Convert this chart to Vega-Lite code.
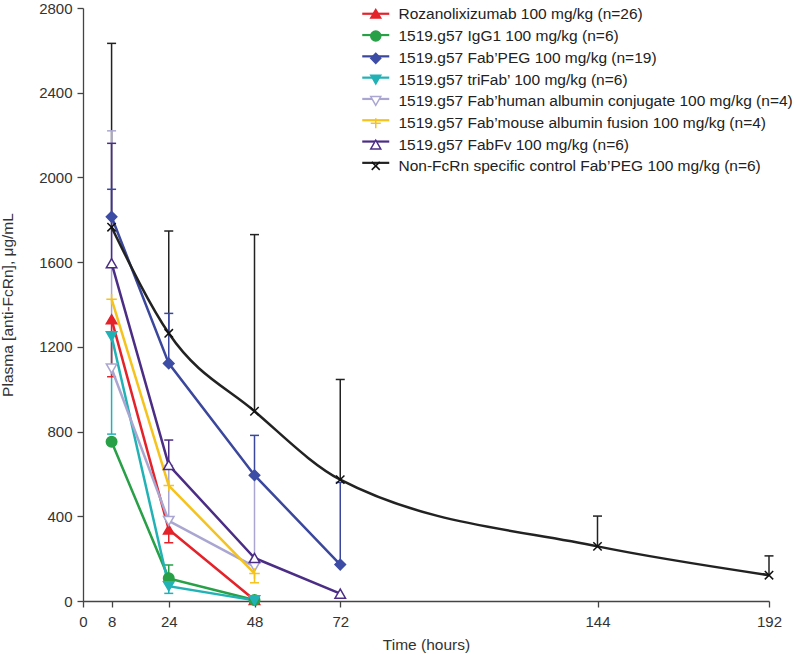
{
  "$schema": "https://vega.github.io/schema/vega-lite/v6.json",
  "width": 686,
  "height": 593,
  "autosize": {"type": "none"},
  "padding": {"left": 83, "top": 8, "right": 31, "bottom": 53},
  "background": "white",
  "config": {
    "view": {"stroke": null},
    "font": "Liberation Sans",
    "axis": {
      "grid": false,
      "domainColor": "#444444",
      "domainWidth": 1.3,
      "tickColor": "#444444",
      "tickWidth": 1.3,
      "tickSize": 6,
      "labelFont": "Liberation Sans",
      "labelFontSize": 15,
      "labelColor": "#333333",
      "titleFont": "Liberation Sans",
      "titleFontSize": 15.5,
      "titleFontWeight": "normal",
      "titleColor": "#333333",
      "labelFlush": false,
      "format": "d"
    }
  },
  "datasets": {
    "means": [
      {"series": "Rozanolixizumab 100 mg/kg (n=26)", "time": 8, "value": 1330},
      {"series": "Rozanolixizumab 100 mg/kg (n=26)", "time": 24, "value": 338},
      {"series": "Rozanolixizumab 100 mg/kg (n=26)", "time": 48, "value": 5},
      {"series": "1519.g57 IgG1 100 mg/kg (n=6)", "time": 8, "value": 752},
      {"series": "1519.g57 IgG1 100 mg/kg (n=6)", "time": 24, "value": 107},
      {"series": "1519.g57 IgG1 100 mg/kg (n=6)", "time": 48, "value": 5},
      {"series": "1519.g57 Fab’PEG 100 mg/kg (n=19)", "time": 8, "value": 1814},
      {"series": "1519.g57 Fab’PEG 100 mg/kg (n=19)", "time": 24, "value": 1122},
      {"series": "1519.g57 Fab’PEG 100 mg/kg (n=19)", "time": 48, "value": 594},
      {"series": "1519.g57 Fab’PEG 100 mg/kg (n=19)", "time": 72, "value": 172},
      {"series": "1519.g57 triFab’ 100 mg/kg (n=6)", "time": 8, "value": 1250},
      {"series": "1519.g57 triFab’ 100 mg/kg (n=6)", "time": 24, "value": 70},
      {"series": "1519.g57 triFab’ 100 mg/kg (n=6)", "time": 48, "value": 3},
      {"series": "1519.g57 Fab’human albumin conjugate 100 mg/kg (n=4)", "time": 8, "value": 1098},
      {"series": "1519.g57 Fab’human albumin conjugate 100 mg/kg (n=4)", "time": 24, "value": 378},
      {"series": "1519.g57 Fab’human albumin conjugate 100 mg/kg (n=4)", "time": 48, "value": 162},
      {"series": "1519.g57 Fab’mouse albumin fusion 100 mg/kg (n=4)", "time": 8, "value": 1425},
      {"series": "1519.g57 Fab’mouse albumin fusion 100 mg/kg (n=4)", "time": 24, "value": 545},
      {"series": "1519.g57 Fab’mouse albumin fusion 100 mg/kg (n=4)", "time": 48, "value": 130},
      {"series": "1519.g57 FabFv 100 mg/kg (n=6)", "time": 8, "value": 1595},
      {"series": "1519.g57 FabFv 100 mg/kg (n=6)", "time": 24, "value": 642},
      {"series": "1519.g57 FabFv 100 mg/kg (n=6)", "time": 48, "value": 203},
      {"series": "1519.g57 FabFv 100 mg/kg (n=6)", "time": 72, "value": 35},
      {"series": "Non-FcRn specific control Fab’PEG 100 mg/kg (n=6)", "time": 8, "value": 1765},
      {"series": "Non-FcRn specific control Fab’PEG 100 mg/kg (n=6)", "time": 24, "value": 1264},
      {"series": "Non-FcRn specific control Fab’PEG 100 mg/kg (n=6)", "time": 48, "value": 896},
      {"series": "Non-FcRn specific control Fab’PEG 100 mg/kg (n=6)", "time": 72, "value": 573},
      {"series": "Non-FcRn specific control Fab’PEG 100 mg/kg (n=6)", "time": 144, "value": 258},
      {"series": "Non-FcRn specific control Fab’PEG 100 mg/kg (n=6)", "time": 192, "value": 122}
    ],
    "errs": [
      {"series": "Non-FcRn specific control Fab’PEG 100 mg/kg (n=6)", "time": 8, "value": 1765, "end": 2633},
      {"series": "Non-FcRn specific control Fab’PEG 100 mg/kg (n=6)", "time": 24, "value": 1264, "end": 1747},
      {"series": "Non-FcRn specific control Fab’PEG 100 mg/kg (n=6)", "time": 48, "value": 896, "end": 1730},
      {"series": "Non-FcRn specific control Fab’PEG 100 mg/kg (n=6)", "time": 72, "value": 573, "end": 1046},
      {"series": "Non-FcRn specific control Fab’PEG 100 mg/kg (n=6)", "time": 144, "value": 258, "end": 401},
      {"series": "Non-FcRn specific control Fab’PEG 100 mg/kg (n=6)", "time": 192, "value": 122, "end": 213},
      {"series": "1519.g57 Fab’PEG 100 mg/kg (n=19)", "time": 8, "value": 1814, "end": 1944},
      {"series": "1519.g57 Fab’PEG 100 mg/kg (n=19)", "time": 24, "value": 1122, "end": 1358},
      {"series": "1519.g57 Fab’PEG 100 mg/kg (n=19)", "time": 48, "value": 594, "end": 782},
      {"series": "1519.g57 Fab’PEG 100 mg/kg (n=19)", "time": 72, "value": 172, "end": 560},
      {"series": "1519.g57 Fab’human albumin conjugate 100 mg/kg (n=4)", "time": 8, "value": 1098, "end": 2220},
      {"series": "1519.g57 Fab’human albumin conjugate 100 mg/kg (n=4)", "time": 24, "value": 378, "end": 640},
      {"series": "1519.g57 Fab’human albumin conjugate 100 mg/kg (n=4)", "time": 48, "value": 162, "end": 590},
      {"series": "1519.g57 FabFv 100 mg/kg (n=6)", "time": 8, "value": 1595, "end": 2161},
      {"series": "1519.g57 FabFv 100 mg/kg (n=6)", "time": 24, "value": 642, "end": 760},
      {"series": "1519.g57 triFab’ 100 mg/kg (n=6)", "time": 8, "value": 1250, "end": 788},
      {"series": "1519.g57 triFab’ 100 mg/kg (n=6)", "time": 24, "value": 70, "end": 36},
      {"series": "Rozanolixizumab 100 mg/kg (n=26)", "time": 8, "value": 1330, "end": 1059},
      {"series": "Rozanolixizumab 100 mg/kg (n=26)", "time": 24, "value": 338, "end": 275},
      {"series": "1519.g57 IgG1 100 mg/kg (n=6)", "time": 24, "value": 107, "end": 170},
      {"series": "1519.g57 Fab’mouse albumin fusion 100 mg/kg (n=4)", "time": 48, "value": 130, "end": 86}
    ]
  },
  "encoding": {
    "x": {
      "field": "time",
      "type": "quantitative",
      "title": "Time (hours)",
      "scale": {"domain": [0, 192], "nice": false, "zero": true},
      "axis": {"values": [0, 8, 24, 48, 72, 144, 192], "labelPadding": 7, "titlePadding": 8}
    }
  },
  "layer": [
    {
      "data": {"name": "errs"},
      "mark": {"type": "rule", "strokeWidth": 1.5},
      "encoding": {
        "y": {"field": "value", "type": "quantitative", "title": "Plasma [anti-FcRn], μg/mL",
              "scale": {"domain": [0, 2800], "nice": false},
              "axis": {"values": [0, 400, 800, 1200, 1600, 2000, 2400, 2800], "labelPadding": 5, "titlePadding": 23}},
        "y2": {"field": "end"},
        "color": {"field": "series", "type": "nominal",
          "scale": {
            "domain": ["Rozanolixizumab 100 mg/kg (n=26)", "1519.g57 IgG1 100 mg/kg (n=6)", "1519.g57 Fab’PEG 100 mg/kg (n=19)", "1519.g57 triFab’ 100 mg/kg (n=6)", "1519.g57 Fab’human albumin conjugate 100 mg/kg (n=4)", "1519.g57 Fab’mouse albumin fusion 100 mg/kg (n=4)", "1519.g57 FabFv 100 mg/kg (n=6)", "Non-FcRn specific control Fab’PEG 100 mg/kg (n=6)"],
            "range": ["#e4222a", "#28a047", "#3a479c", "#22b2b6", "#aaa6d2", "#f5c31c", "#4b2d85", "#222222"]}}
      }
    },
    {
      "data": {"name": "errs"},
      "mark": {"type": "tick", "orient": "horizontal", "size": 9, "thickness": 1.5, "opacity": 1},
      "encoding": {
        "y": {"field": "end", "type": "quantitative", "title": "Plasma [anti-FcRn], μg/mL", "scale": {"domain": [0, 2800], "nice": false}},
        "color": {"field": "series", "type": "nominal",
          "scale": {
            "domain": ["Rozanolixizumab 100 mg/kg (n=26)", "1519.g57 IgG1 100 mg/kg (n=6)", "1519.g57 Fab’PEG 100 mg/kg (n=19)", "1519.g57 triFab’ 100 mg/kg (n=6)", "1519.g57 Fab’human albumin conjugate 100 mg/kg (n=4)", "1519.g57 Fab’mouse albumin fusion 100 mg/kg (n=4)", "1519.g57 FabFv 100 mg/kg (n=6)", "Non-FcRn specific control Fab’PEG 100 mg/kg (n=6)"],
            "range": ["#e4222a", "#28a047", "#3a479c", "#22b2b6", "#aaa6d2", "#f5c31c", "#4b2d85", "#222222"]}}
      }
    },
    {
      "data": {"name": "means"},
      "transform": [{"filter": {"not": {"field": "series", "equal": "Non-FcRn specific control Fab’PEG 100 mg/kg (n=6)"}}}],
      "mark": {"type": "line", "strokeWidth": 2.5},
      "encoding": {
        "y": {"field": "value", "type": "quantitative", "title": "Plasma [anti-FcRn], μg/mL", "scale": {"domain": [0, 2800], "nice": false}},
        "color": {"field": "series", "type": "nominal",
          "scale": {
            "domain": ["Rozanolixizumab 100 mg/kg (n=26)", "1519.g57 IgG1 100 mg/kg (n=6)", "1519.g57 Fab’PEG 100 mg/kg (n=19)", "1519.g57 triFab’ 100 mg/kg (n=6)", "1519.g57 Fab’human albumin conjugate 100 mg/kg (n=4)", "1519.g57 Fab’mouse albumin fusion 100 mg/kg (n=4)", "1519.g57 FabFv 100 mg/kg (n=6)", "Non-FcRn specific control Fab’PEG 100 mg/kg (n=6)"],
            "range": ["#e4222a", "#28a047", "#3a479c", "#22b2b6", "#aaa6d2", "#f5c31c", "#4b2d85", "#222222"]},
          "legend": {"title": null, "orient": "none", "legendX": 285, "legendY": -2, "padding": 0,
            "symbolType": "M-2.7,0H2.7", "symbolSize": 100, "symbolStrokeWidth": 2.2,
            "labelExpr": "''", "labelFont": "Liberation Sans", "labelFontSize": 15.5,
            "labelOffset": 15, "rowPadding": 4.3}}
      }
    },
    {
      "data": {"name": "means"},
      "transform": [{"filter": {"field": "series", "equal": "Non-FcRn specific control Fab’PEG 100 mg/kg (n=6)"}}],
      "mark": {"type": "line", "strokeWidth": 2.5, "interpolate": "monotone"},
      "encoding": {
        "y": {"field": "value", "type": "quantitative", "title": "Plasma [anti-FcRn], μg/mL", "scale": {"domain": [0, 2800], "nice": false}},
        "color": {"field": "series", "type": "nominal",
          "scale": {
            "domain": ["Rozanolixizumab 100 mg/kg (n=26)", "1519.g57 IgG1 100 mg/kg (n=6)", "1519.g57 Fab’PEG 100 mg/kg (n=19)", "1519.g57 triFab’ 100 mg/kg (n=6)", "1519.g57 Fab’human albumin conjugate 100 mg/kg (n=4)", "1519.g57 Fab’mouse albumin fusion 100 mg/kg (n=4)", "1519.g57 FabFv 100 mg/kg (n=6)", "Non-FcRn specific control Fab’PEG 100 mg/kg (n=6)"],
            "range": ["#e4222a", "#28a047", "#3a479c", "#22b2b6", "#aaa6d2", "#f5c31c", "#4b2d85", "#222222"]}}
      }
    },
    {
      "data": {"name": "means"},
      "mark": {"type": "point", "filled": false, "size": 110, "strokeWidth": 1.5, "opacity": 1},
      "encoding": {
        "y": {"field": "value", "type": "quantitative", "title": "Plasma [anti-FcRn], μg/mL", "scale": {"domain": [0, 2800], "nice": false}},
        "stroke": {"field": "series", "type": "nominal", "sort": null,
          "scale": {"range": ["#e4222a", "#28a047", "#3d4da5", "#22b2b6", "#aaa6d2", "#f5c31c", "#4b2d85", "#111111"]},
          "legend": {"title": null, "orient": "none", "legendX": 285, "legendY": -2, "padding": 0,
            "symbolSize": 100, "symbolStrokeWidth": 1.5, "symbolOpacity": 1,
            "labelFont": "Liberation Sans", "labelFontSize": 15.5, "labelColor": "#222222",
            "labelOffset": 15, "rowPadding": 4.3, "labelLimit": 600}},
        "fill": {"field": "series", "type": "nominal", "sort": null,
          "scale": {"range": ["#e4222a", "#28a047", "#3d4da5", "#22b2b6", "#ffffff", "transparent", "#ffffff", "transparent"]},
          "legend": {"title": null, "orient": "none", "legendX": 285, "legendY": -2, "padding": 0,
            "symbolSize": 100, "symbolStrokeWidth": 1.5, "symbolOpacity": 1,
            "labelFont": "Liberation Sans", "labelFontSize": 15.5, "labelColor": "#222222",
            "labelOffset": 15, "rowPadding": 4.3, "labelLimit": 600}},
        "shape": {"field": "series", "type": "nominal", "sort": null,
          "scale": {"range": ["triangle-up", "circle", "diamond", "triangle-down", "triangle-down", "M-1,0H1M0,-1V1", "triangle-up", "M-0.8,-0.8L0.8,0.8M-0.8,0.8L0.8,-0.8"]},
          "legend": {"title": null, "orient": "none", "legendX": 285, "legendY": -2, "padding": 0,
            "symbolSize": 100, "symbolStrokeWidth": 1.5, "symbolOpacity": 1,
            "labelFont": "Liberation Sans", "labelFontSize": 15.5, "labelColor": "#222222",
            "labelOffset": 15, "rowPadding": 4.3, "labelLimit": 600}}
      }
    }
  ]
}
